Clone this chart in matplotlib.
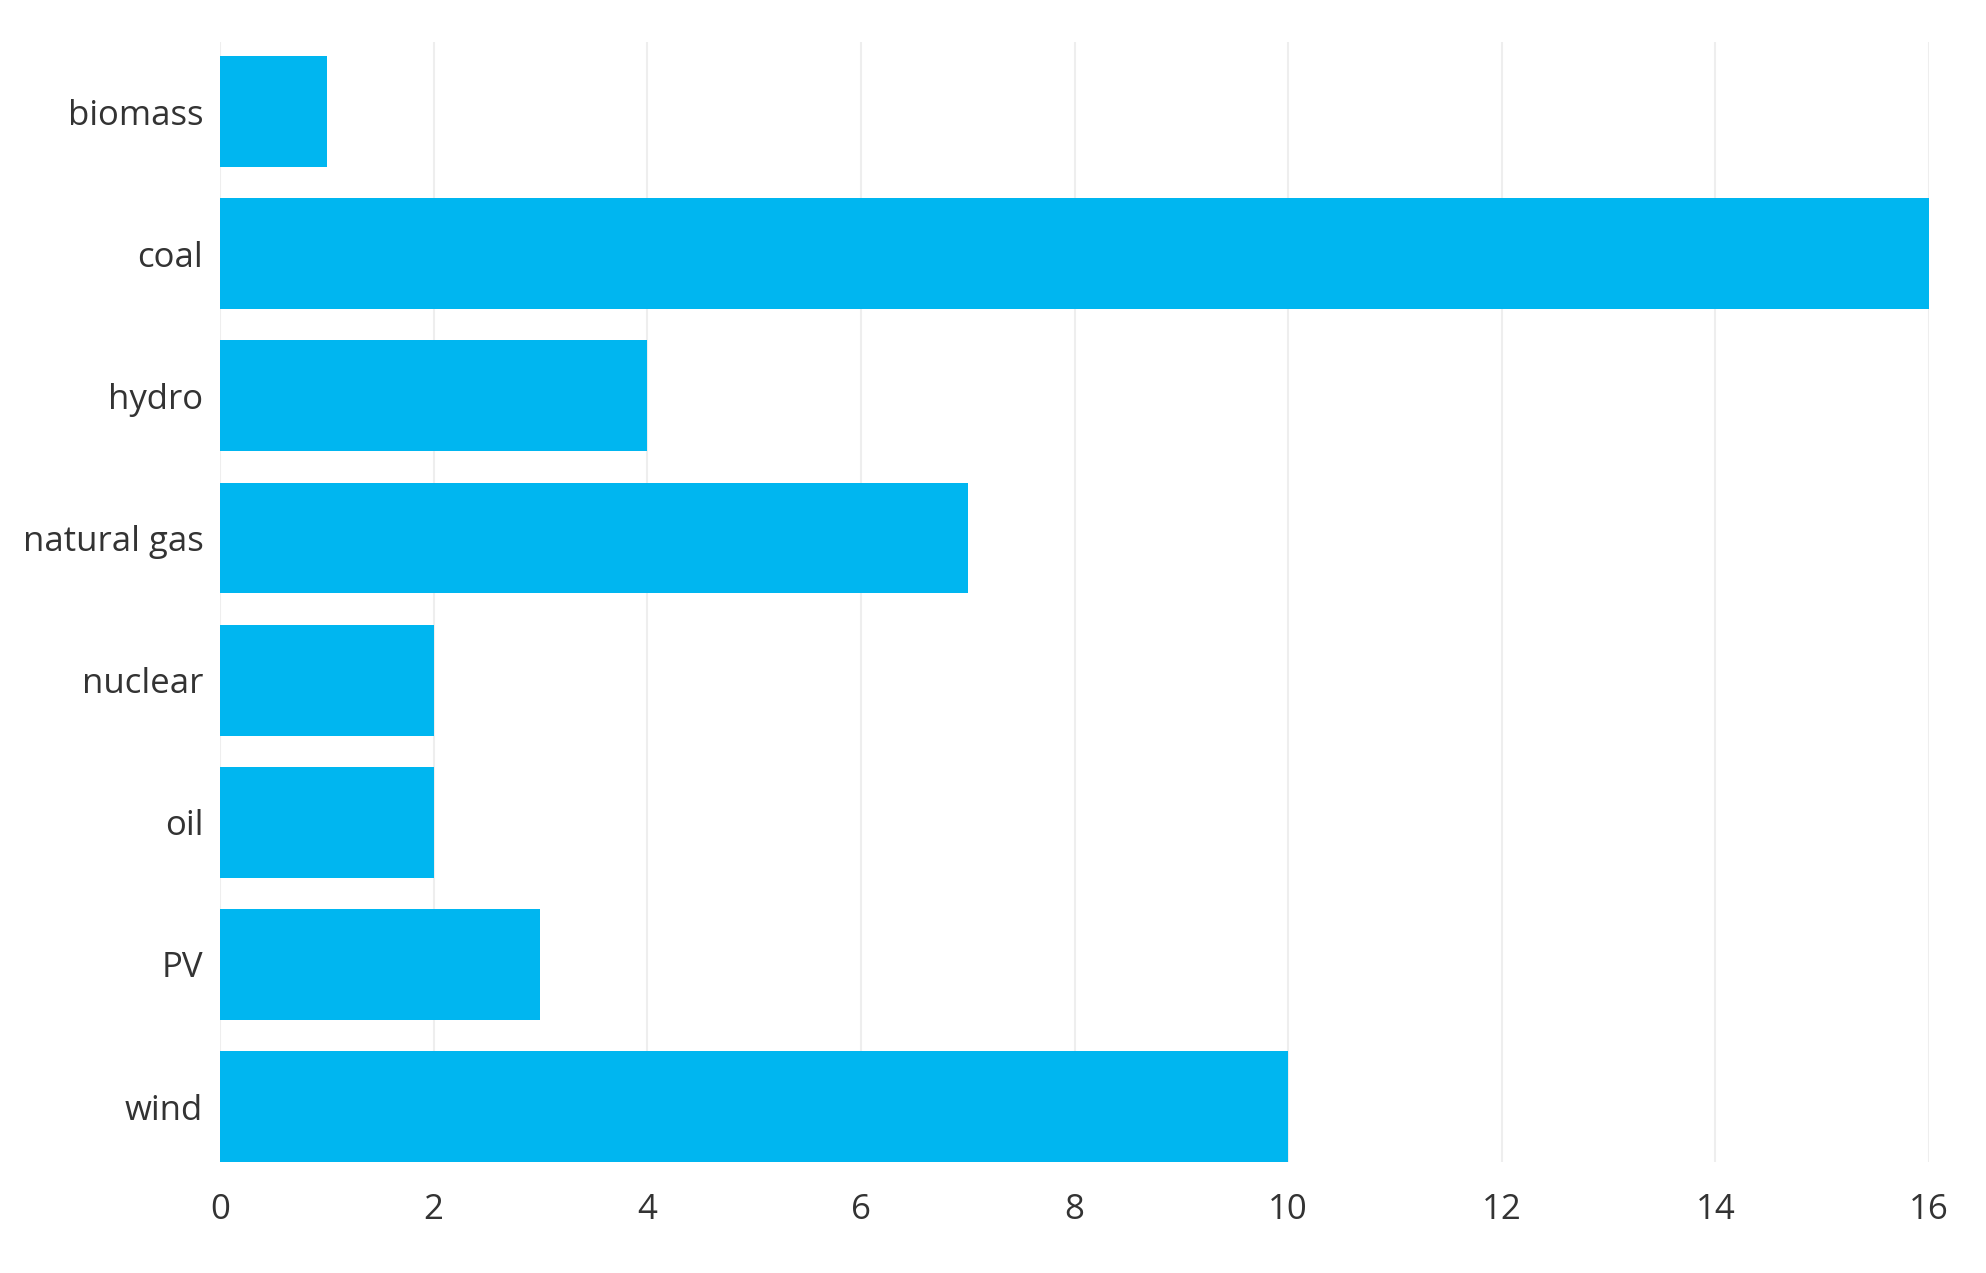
import matplotlib.pyplot as plt

# energy sources and values
sources = ['biomass', 'coal', 'hydro', 'natural gas', 'nuclear', 'oil', 'PV', 'wind']
values = [1, 16, 4, 7, 2, 2, 3, 10]
xticks = [0, 2, 4, 6, 8, 10, 12, 14, 16]

plt.rcParams['font.family'] = ['Open Sans', 'DejaVu Sans']

fig = plt.figure(figsize=(19.86, 12.73), dpi=100)
ax = fig.add_axes([220 / 1986, 111 / 1273, (1929 - 220) / 1986, (1231 - 111) / 1273])

ypos = list(range(len(sources)))
ax.barh(ypos, values, height=0.78, color='#00b6f0', zorder=2)

ax.set_xlim(0, 16)
ax.set_ylim(len(sources) - 1 + 0.39, -0.49)
ax.set_xticks(xticks)
ax.set_yticks(ypos)
ax.set_yticklabels(sources)
ax.xaxis.grid(True, color='#eeeeee', linewidth=1.5, zorder=0)
ax.set_axisbelow(True)
for s in ax.spines.values():
    s.set_visible(False)
ax.tick_params(axis='both', length=0, labelsize=25, labelcolor='#333333')
ax.tick_params(axis='y', pad=12)
ax.tick_params(axis='x', pad=22)

fig.savefig('out.png', dpi=100)
